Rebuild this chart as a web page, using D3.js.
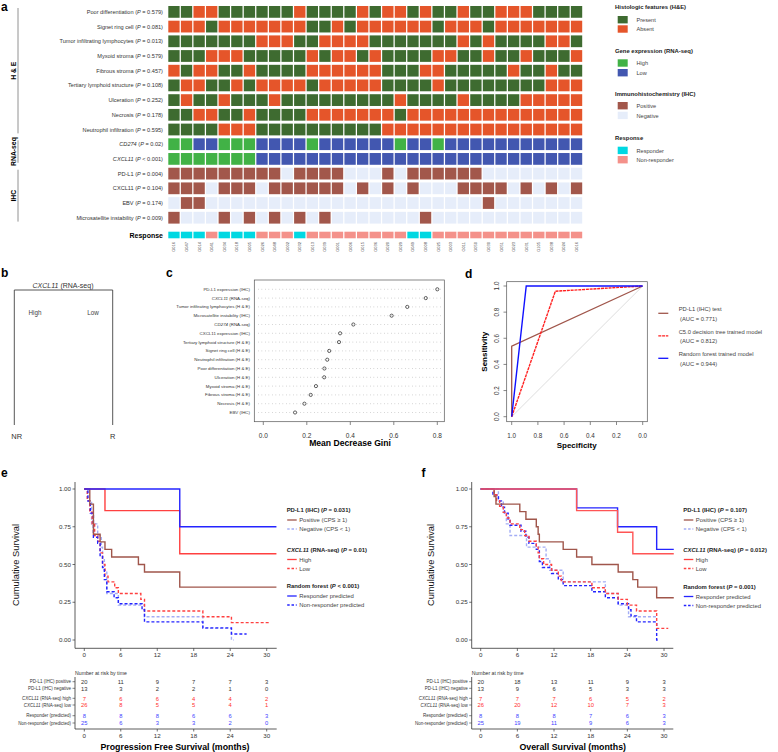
<!DOCTYPE html>
<html><head><meta charset="utf-8">
<script src="https://cdn.jsdelivr.net/npm/d3@7"></script>
<style>body{margin:0;background:#fff}</style>
</head><body>
<svg id="chart" width="778" height="752"></svg>
<script>
// ---------------- DATA ----------------
const samples = ["G016","G047","G014","G041","G034","G018","G005","G026","G048","G002","G032","G013","G039","G001","G006","G015","G036","G020","G029","G049","G008","G025","G003","G011","G050","G030","G051","G023","G031","G105","G038","G024","G016"];
const heLabels = ["Poor differentiation","Signet ring cell","Tumor infiltrating lymphocytes","Myxoid stroma","Fibrous stroma","Tertiary lymphoid structure","Ulceration","Necrosis","Neutrophil infiltration"];
const heP = ["= 0.579","= 0.081","= 0.013","= 0.579","= 0.457","= 0.108","= 0.252","= 0.178","= 0.595"];
const heValues = [
  "1100"+"111111011110100101101100011"+"11",
  "0001"+"000000011010000001000100000"+"00",
  "1111"+"111000110000111111101011110"+"01",
  "1110"+"001111101001011110011011011"+"10",
  "0100"+"110111100000011100111110110"+"11",
  "1001"+"101000010000011110111111110"+"00",
  "1011"+"011101111111110111101111000"+"00",
  "1100"+"110111100000001000000000000"+"00",
  "1111"+"000111111111100000000000000"+"00"
];
const rnaLabels = ["CD274","CXCL11"];
const rnaP = ["= 0.02","< 0.001"];
const rnaHigh = [[0,1,4,5,6,11,18,21],[0,1,2,3,4,5,6]];
const ihcLabels = ["PD-L1","CXCL11","EBV","Microsatellite instability"];
const ihcP = ["= 0.004","= 0.104","= 0.174","= 0.009"];
const ihcPositive = [
  [0,1,2,3,4,5,6,7,8,10,11,12,13,17,19,20,21,22,23,24],
  [0,1,2,4,5,6,8,9,10,11,12,13,15,17,19,23,24,25,26,28,30,32],
  [1,2,25],
  [0,4,6,8,10,12,20]
];
const responders = [0,1,2,4,5,6,10,19,20];

const giniLabels = ["PD-L1 expression (IHC)","CXCL11 (RNA-seq)","Tumor infiltrating lymphocytes (H & E)","Microsatellite instability (IHC)","CD274 (RNA-seq)","CXCL11 expression (IHC)","Tertiary lymphoid structure (H & E)","Signet ring cell (H & E)","Neutrophil infiltration (H & E)","Poor differentiation (H & E)","Ulceration (H & E)","Myxoid stroma (H & E)","Fibrous stroma (H & E)","Necrosis (H & E)","EBV (IHC)"];
const giniValues = [0.80,0.747,0.662,0.59,0.414,0.353,0.348,0.303,0.294,0.281,0.28,0.242,0.218,0.189,0.146];
const giniTicks = [0,0.2,0.4,0.6,0.8];

// ROC points: [specificity, sensitivity]
const rocPDL1 = [[1,0],[1,0.54],[0,1]];
const rocC50 = [[1,0],[0.667,0.96],[0,1]];
const rocRF = [[1,0],[0.889,1],[0,1]];
const rocTicks = [0,0.2,0.4,0.6,0.8,1.0];
const rocLegend = [["PD-L1 (IHC) test","(AUC = 0.771)"],["C5.0 decision tree trained model","(AUC = 0.812)"],["Random forest trained model","(AUC = 0.944)"]];

// KM curves: [time, survival]
const pfsPDL1pos = [[0,1],[0.9,0.9],[1.5,0.7],[2.6,0.65],[3.4,0.6],[4.5,0.55],[8.9,0.5],[9.9,0.45],[15.7,0.35],[31.6,0.35]];
const pfsPDL1neg = [[0,1],[0.5,0.923],[1.2,0.769],[2.2,0.692],[2.8,0.615],[3.0,0.538],[3.3,0.462],[3.7,0.308],[5.6,0.231],[9.9,0.154],[19.5,0.077],[24.2,0],[24.6,0]];
const pfsHigh = [[0,1],[3.4,0.857],[15.7,0.571],[31.6,0.571]];
const pfsLow = [[0,1],[0.5,0.923],[0.9,0.846],[1.3,0.769],[1.7,0.692],[2.2,0.654],[2.6,0.577],[3.0,0.5],[3.4,0.423],[3.9,0.385],[5.0,0.346],[5.6,0.308],[9.3,0.269],[9.9,0.192],[19.5,0.154],[24.2,0.115],[30.6,0.115]];
const pfsResp = [[0,1],[15.7,0.75],[31.6,0.75]];
const pfsNonResp = [[0,1],[0.6,0.92],[1.0,0.84],[1.5,0.68],[2.2,0.64],[2.6,0.56],[3.0,0.48],[3.3,0.4],[3.7,0.32],[4.9,0.28],[5.6,0.24],[9.5,0.2],[9.9,0.12],[19.5,0.08],[24.2,0.04],[26.7,0.04]];

const osPDL1pos = [[0,1],[2.2,0.95],[2.5,0.9],[6.4,0.85],[7.4,0.8],[9.1,0.75],[9.4,0.7],[9.6,0.65],[13.5,0.6],[15.7,0.55],[18.2,0.5],[22.5,0.45],[24.9,0.4],[25.7,0.35],[28.8,0.28],[31.6,0.28]];
const osPDL1neg = [[0,1],[2.9,0.923],[3.7,0.846],[4.2,0.769],[4.8,0.692],[7.5,0.615],[10.7,0.538],[11.3,0.462],[13.5,0.385],[20.4,0.308],[22.5,0.231],[24.2,0.154],[28.8,0.154]];
const osHigh = [[0,1],[15.7,0.857],[22.4,0.714],[24.9,0.571],[31.6,0.571]];
const osLow = [[0,1],[2.2,0.962],[2.6,0.923],[3.1,0.885],[3.7,0.846],[4.2,0.808],[4.8,0.769],[6.4,0.731],[7.2,0.692],[7.9,0.654],[9.1,0.615],[9.4,0.577],[9.6,0.538],[10.3,0.5],[11.6,0.462],[12.7,0.423],[13.2,0.385],[18.2,0.346],[20.4,0.308],[22.5,0.269],[24.0,0.231],[25.5,0.192],[28.8,0.077],[30.7,0.077]];
const osResp = [[0,1],[15.7,0.875],[22.4,0.75],[28.8,0.6],[31.6,0.6]];
const osNonResp = [[0,1],[2.0,0.96],[2.9,0.92],[3.4,0.88],[3.9,0.84],[4.5,0.8],[4.8,0.76],[6.6,0.72],[7.4,0.68],[7.9,0.64],[9.1,0.6],[9.6,0.52],[10.1,0.48],[11.6,0.44],[12.7,0.4],[13.5,0.36],[18.2,0.32],[20.4,0.28],[22.5,0.24],[24.2,0.2],[24.6,0.16],[25.5,0.12],[28.8,0],[29.0,0]];

const timeTicks = [0,6,12,18,24,30];
const survTicks = [0,0.25,0.5,0.75,1];
const riskLabels = ["PD-L1 (IHC) positive","PD-L1 (IHC) negative","CXCL11|(RNA-seq) high","CXCL11|(RNA-seq) low","Responder (predicted)","Non-responder (predicted)"];
const pfsRisk = [[20,11,9,7,7,3],[13,3,2,2,1,0],[7,6,6,4,4,2],[26,8,5,5,4,1],[8,8,8,6,6,3],[25,6,3,3,2,0]];
const osRisk = [[20,18,13,11,9,3],[13,9,6,5,3,3],[7,7,7,6,5,2],[26,20,12,10,7,3],[8,8,8,7,6,3],[25,19,11,9,6,3]];

// ---------------- DRAW ----------------
const FONT = "'Liberation Sans', Arial, Helvetica, sans-serif";
const svg = d3.select("#chart").attr("font-family", FONT);
const C = {present:"#3E6B30", absent:"#E5552A", high:"#41B246", low:"#4257B0", pos:"#A2574B", neg:"#E6EDFA", resp:"#00D8E2", nonresp:"#F4918A",
  brown:"#A0564B", red:"#FF4040", blue:"#2424FF", light:"#A3ADF5"};

function rich(g, x, y, parts, attrs) {
  const t = g.append("text").attr("x", x).attr("y", y);
  for (const k in attrs) t.attr(k, attrs[k]);
  parts.forEach(p => {
    if (typeof p === "string") t.append("tspan").text(p);
    else t.append("tspan").attr("font-style", "italic").text(p.i);
  });
  return t;
}
function label(t, x, y) {
  svg.append("text").attr("x", x).attr("y", y).attr("font-size", 12).attr("font-weight", "bold").text(t);
}

// ---- Panel a ----
label("a", 1, 10.5);
const gA = svg.append("g");
const xA = d3.scaleBand().domain(d3.range(samples.length)).range([168.3, 582.2]).paddingInner(0.1);
const yA = d3.scaleBand().domain(d3.range(15)).range([6, 223.6]).paddingInner(0.2);
const rows = [];
heValues.forEach((s, r) => rows.push({parts:[heLabels[r] + " (", {i:"P"}, " " + heP[r] + ")"], cells: d3.range(samples.length).map(i => s[i] === "1" ? C.present : C.absent)}));
rnaLabels.forEach((l, r) => rows.push({parts:[{i:l}, " (", {i:"P"}, " " + rnaP[r] + ")"], cells: d3.range(samples.length).map(i => rnaHigh[r].includes(i) ? C.high : C.low)}));
ihcLabels.forEach((l, r) => rows.push({parts:[l + " (", {i:"P"}, " " + ihcP[r] + ")"], cells: d3.range(samples.length).map(i => ihcPositive[r].includes(i) ? C.pos : C.neg)}));
rows.forEach((row, r) => {
  gA.selectAll(null).data(row.cells).enter().append("rect")
    .attr("x", (d, i) => xA(i)).attr("y", yA(r)).attr("width", xA.bandwidth()).attr("height", yA.bandwidth())
    .attr("fill", d => d);
  rich(gA, 163, yA(r) + yA.bandwidth() / 2 + 2, row.parts, {"font-size": 5.6, "text-anchor": "end", fill: "#333"});
});
gA.selectAll(null).data(d3.range(samples.length)).enter().append("rect")
  .attr("x", i => xA(i)).attr("y", 231.7).attr("width", xA.bandwidth()).attr("height", 6.6)
  .attr("fill", i => responders.includes(i) ? C.resp : C.nonresp);
gA.append("text").attr("x", 163).attr("y", 237.5).attr("text-anchor", "end").attr("font-size", 7).attr("font-weight", "bold").text("Response");
gA.selectAll(null).data(samples).enter().append("text")
  .attr("transform", (d, i) => `translate(${xA(i) + xA.bandwidth() / 2 + 1.5},242) rotate(-90)`)
  .attr("text-anchor", "end").attr("font-size", 4).attr("fill", "#444").text(d => d);
// groups
const groups = [["H & E", 0, 8], ["RNA-seq", 9, 10], ["IHC", 11, 14]];
groups.forEach(([t, a, b]) => {
  const y0 = yA(a) + 2, y1 = yA(b) + yA.bandwidth() - 2;
  gA.append("line").attr("x1", 18).attr("x2", 18).attr("y1", y0).attr("y2", y1).attr("stroke", "#777").attr("stroke-width", 0.8);
  gA.append("text").attr("transform", `translate(15.5,${(y0 + y1) / 2}) rotate(-90)`).attr("text-anchor", "middle")
    .attr("font-size", 6.8).attr("font-weight", "bold").text(t);
});
// legend
const legA = [
  ["Histologic features (H&E)", 9, [["Present", C.present, 16], ["Absent", C.absent, 25.3]]],
  ["Gene expression (RNA-seq)", 53, [["High", C.high, 59.3], ["Low", C.low, 69]]],
  ["Immunohistochemistry (IHC)", 95.5, [["Positive", C.pos, 102], ["Negative", C.neg, 111.7]]],
  ["Response", 140, [["Responder", C.resp, 146.7], ["Non-responder", C.nonresp, 156]]]
];
legA.forEach(([h, y, items]) => {
  gA.append("text").attr("x", 615).attr("y", y).attr("font-size", 5.9).attr("font-weight", "bold").attr("fill", "#222").text(h);
  items.forEach(([t, c, yy]) => {
    gA.append("rect").attr("x", 617.7).attr("y", yy).attr("width", 10).attr("height", 7.4).attr("fill", c);
    gA.append("text").attr("x", 636.5).attr("y", yy + 5.8).attr("font-size", 5.6).attr("fill", "#444").text(t);
  });
});

// ---- Panel b ----
label("b", 1, 277);
const gB = svg.append("g").attr("stroke-width", 0.9);
rich(gB, 63, 287.5, [{i:"CXCL11"}, " (RNA-seq)"], {"font-size": 7, "text-anchor": "middle", fill: "#333"});
gB.append("path").attr("d", "M14.3,425 V290 H112.7 V425").attr("fill", "none").attr("stroke", "#444");
gB.append("text").attr("x", 35).attr("y", 315).attr("text-anchor", "middle").attr("font-size", 6.3).attr("fill", "#444").text("High");
gB.append("text").attr("x", 93).attr("y", 315).attr("text-anchor", "middle").attr("font-size", 6.3).attr("fill", "#444").text("Low");
gB.append("text").attr("x", 16.7).attr("y", 438.5).attr("text-anchor", "middle").attr("font-size", 7.5).attr("fill", "#333").text("NR");
gB.append("text").attr("x", 112.7).attr("y", 438.5).attr("text-anchor", "middle").attr("font-size", 7.5).attr("fill", "#333").text("R");

// ---- Panel c ----
label("c", 166, 277);
const gC = svg.append("g");
const xC = d3.scaleLinear().domain([0, 0.8]).range([263.3, 437.3]);
const yC = d3.scalePoint().domain(giniLabels).range([289.3, 412.5]);
gC.append("rect").attr("x", 254.3).attr("y", 280).attr("width", 190).attr("height", 141.7).attr("fill", "none").attr("stroke", "#555").attr("stroke-width", 0.7);
giniLabels.forEach((l, i) => {
  gC.append("line").attr("x1", 258).attr("x2", 442).attr("y1", yC(l)).attr("y2", yC(l)).attr("stroke", "#9a9a9a").attr("stroke-width", 0.6).attr("stroke-dasharray", "0.7,2.8");
  let parts = [l];
  if (l.startsWith("CXCL11 (RNA")) parts = [{i:"CXCL11"}, " (RNA-seq)"];
  if (l.startsWith("CD274")) parts = [{i:"CD274"}, " (RNA-seq)"];
  rich(gC, 250, yC(l) + 1.5, parts, {"font-size": 4.4, "text-anchor": "end", fill: "#333"});
});
gC.selectAll(null).data(giniValues).enter().append("circle")
  .attr("cx", d => xC(d)).attr("cy", (d, i) => yC(giniLabels[i])).attr("r", 1.6)
  .attr("fill", "none").attr("stroke", "#222").attr("stroke-width", 0.7);
giniTicks.forEach(t => {
  gC.append("line").attr("x1", xC(t)).attr("x2", xC(t)).attr("y1", 421.7).attr("y2", 425).attr("stroke", "#555").attr("stroke-width", 0.7);
  gC.append("text").attr("x", xC(t)).attr("y", 437.5).attr("text-anchor", "middle").attr("font-size", 6.5).attr("fill", "#333").text(d3.format(".1f")(t));
});
gC.append("text").attr("x", 350).attr("y", 446).attr("text-anchor", "middle").attr("font-size", 8.6).attr("font-weight", "bold").text("Mean Decrease Gini");

// ---- Panel d ----
label("d", 465, 278);
const gD = svg.append("g");
const xD = d3.scaleLinear().domain([1, 0]).range([511.7, 642.7]);
const yD = d3.scaleLinear().domain([0, 1]).range([416.7, 286]);
gD.append("rect").attr("x", 506.7).attr("y", 281.7).attr("width", 140.6).attr("height", 140).attr("fill", "none").attr("stroke", "#555").attr("stroke-width", 0.7);
rocTicks.forEach(t => {
  gD.append("line").attr("x1", 503.5).attr("x2", 506.7).attr("y1", yD(t)).attr("y2", yD(t)).attr("stroke", "#555").attr("stroke-width", 0.7);
  gD.append("text").attr("transform", `translate(499,${yD(t)}) rotate(-90)`).attr("text-anchor", "middle").attr("font-size", 6.3).attr("fill", "#333").text(d3.format(".1f")(t));
  gD.append("line").attr("x1", xD(t)).attr("x2", xD(t)).attr("y1", 421.7).attr("y2", 425).attr("stroke", "#555").attr("stroke-width", 0.7);
  gD.append("text").attr("x", xD(t)).attr("y", 437.5).attr("text-anchor", "middle").attr("font-size", 6.3).attr("fill", "#333").text(d3.format(".1f")(t));
});
const lineD = d3.line().x(d => xD(d[0])).y(d => yD(d[1]));
gD.append("path").attr("d", lineD([[1, 0], [0, 1]])).attr("stroke", "#cfcfcf").attr("stroke-width", 0.7).attr("fill", "none");
gD.append("path").attr("d", lineD(rocPDL1)).attr("stroke", C.brown).attr("stroke-width", 1.3).attr("fill", "none");
gD.append("path").attr("d", lineD(rocC50)).attr("stroke", "#FF2020").attr("stroke-width", 1.4).attr("fill", "none").attr("stroke-dasharray", "3,0.8");
gD.append("path").attr("d", lineD(rocRF)).attr("stroke", "#1010FF").attr("stroke-width", 1.4).attr("fill", "none");
gD.append("text").attr("x", 576.7).attr("y", 448).attr("text-anchor", "middle").attr("font-size", 8).attr("font-weight", "bold").text("Specificity");
gD.append("text").attr("transform", "translate(486.5,351.7) rotate(-90)").attr("text-anchor", "middle").attr("font-size", 8).attr("font-weight", "bold").text("Sensitivity");
const rocCols = [[C.brown, null], ["#FF2020", "3,0.8"], ["#1010FF", null]];
rocLegend.forEach((l, i) => {
  const yy = 313.3 + i * 22.5;
  gD.append("line").attr("x1", 658.3).attr("x2", 668.3).attr("y1", yy).attr("y2", yy).attr("stroke", rocCols[i][0]).attr("stroke-width", 1.3).attr("stroke-dasharray", rocCols[i][1]);
  gD.append("text").attr("x", 678.7).attr("y", yy - 2).attr("font-size", 5.8).attr("fill", "#444").text(l[0]);
  gD.append("text").attr("x", 680).attr("y", yy + 7.5).attr("font-size", 5.8).attr("fill", "#444").text(l[1]);
});

// ---- Panels e / f ----
function km(cfg) {
  const g = svg.append("g");
  const x = d3.scaleLinear().domain([0, 30]).range([cfg.x0, cfg.x30]);
  const y = d3.scaleLinear().domain([0, 1]).range([640, 489]);
  const ax = cfg.ax;
  g.append("line").attr("x1", ax).attr("x2", ax).attr("y1", 482).attr("y2", 648.3).attr("stroke", "#333").attr("stroke-width", 0.8);
  g.append("line").attr("x1", ax).attr("x2", cfg.axEnd).attr("y1", 648.3).attr("y2", 648.3).attr("stroke", "#333").attr("stroke-width", 0.8);
  survTicks.forEach(v => {
    g.append("line").attr("x1", ax - 2.5).attr("x2", ax).attr("y1", y(v)).attr("y2", y(v)).attr("stroke", "#333").attr("stroke-width", 0.7);
    g.append("text").attr("x", ax - 4).attr("y", y(v) + 2.2).attr("text-anchor", "end").attr("font-size", 6.2).attr("fill", "#333").text(d3.format(".2f")(v));
  });
  timeTicks.forEach(t => {
    g.append("line").attr("x1", x(t)).attr("x2", x(t)).attr("y1", 648.3).attr("y2", 651).attr("stroke", "#333").attr("stroke-width", 0.7);
    g.append("text").attr("x", x(t)).attr("y", 657).attr("text-anchor", "middle").attr("font-size", 6.2).attr("fill", "#333").text(t);
  });
  g.append("text").attr("transform", `translate(${cfg.ylabX},565) rotate(-90)`).attr("text-anchor", "middle").attr("font-size", 9.3).attr("fill", "#111").text("Cumulative Survival");
  const line = d3.line().x(d => x(d[0])).y(d => y(d[1])).curve(d3.curveStepAfter);
  cfg.curves.forEach(c => {
    g.append("path").attr("d", line(c.data)).attr("fill", "none").attr("stroke", c.color).attr("stroke-width", 1.4)
      .attr("stroke-dasharray", c.dash ? "3,2" : null);
  });
  // legend
  const hx = cfg.legX;
  cfg.legend.forEach(grp => {
    rich(g, hx, grp.y, grp.head, {"font-size": 5.9, "font-weight": "bold", fill: "#222"});
    grp.items.forEach((it, k) => {
      const yy = grp.y + 10 + k * 9;
      g.append("line").attr("x1", hx + 0.5).attr("x2", hx + 10).attr("y1", yy - 2).attr("y2", yy - 2).attr("stroke", it[1]).attr("stroke-width", 1.3).attr("stroke-dasharray", it[2] ? "2.5,1.8" : null);
      g.append("text").attr("x", hx + 12.5).attr("y", yy).attr("font-size", 5.9).attr("fill", "#444").text(it[0]);
    });
  });
  // risk table
  g.append("text").attr("x", ax).attr("y", 674.5).attr("font-size", 5.2).attr("fill", "#333").text("Number at risk by time");
  const ry = [681.7, 688.3, 698.3, 705, 715.7, 723];
  const rc = ["#333", "#333", "#FF3030", "#FF3030", "#4545FF", "#4545FF"];
  riskLabels.forEach((l, r) => {
    const parts = l.includes("|") ? [{i: l.split("|")[0]}, " " + l.split("|")[1]] : [l];
    rich(g, ax - 4, ry[r] + 1.7, parts, {"font-size": 4.5, "text-anchor": "end", fill: "#333"});
    g.append("line").attr("x1", ax - 2.5).attr("x2", ax).attr("y1", ry[r]).attr("y2", ry[r]).attr("stroke", "#333").attr("stroke-width", 0.6);
    cfg.risk[r].forEach((v, k) => {
      g.append("text").attr("x", x(timeTicks[k])).attr("y", ry[r] + 2.2).attr("text-anchor", "middle").attr("font-size", 5.8).attr("fill", rc[r]).text(v);
    });
  });
  g.append("line").attr("x1", ax).attr("x2", ax).attr("y1", 677).attr("y2", 729).attr("stroke", "#333").attr("stroke-width", 0.8);
  g.append("line").attr("x1", ax).attr("x2", cfg.axEnd).attr("y1", 729).attr("y2", 729).attr("stroke", "#333").attr("stroke-width", 0.8);
  timeTicks.forEach(t => {
    g.append("line").attr("x1", x(t)).attr("x2", x(t)).attr("y1", 729).attr("y2", 731.5).attr("stroke", "#333").attr("stroke-width", 0.7);
    g.append("text").attr("x", x(t)).attr("y", 738).attr("text-anchor", "middle").attr("font-size", 6.2).attr("fill", "#333").text(t);
  });
  g.append("text").attr("x", cfg.titleX).attr("y", 749.5).attr("text-anchor", "middle").attr("font-size", 8.8).attr("font-weight", "bold").text(cfg.title);
}

label("e", 1, 477);
km({x0: 84.3, x30: 266.7, ax: 75, axEnd: 276.7, ylabX: 19, legX: 286.7, titleX: 175, title: "Progression Free Survival (months)",
  risk: pfsRisk,
  curves: [
    {data: pfsPDL1neg, color: C.light, dash: true},
    {data: pfsLow, color: C.red, dash: true},
    {data: pfsNonResp, color: C.blue, dash: true},
    {data: pfsPDL1pos, color: C.brown},
    {data: pfsHigh, color: C.red},
    {data: pfsResp, color: C.blue}
  ],
  legend: [
    {y: 512, head: ["PD-L1 (IHC) (", {i:"P"}, " = 0.031)"], items: [["Positive (CPS \u2265 1)", C.brown, false], ["Negative (CPS < 1)", C.light, true]]},
    {y: 551.5, head: [{i:"CXCL11"}, " (RNA-seq) (", {i:"P"}, " = 0.01)"], items: [["High", C.red, false], ["Low", C.red, true]]},
    {y: 588, head: ["Random forest (", {i:"P"}, " < 0.001)"], items: [["Responder predicted", C.blue, false], ["Non-responder predicted", C.blue, true]]}
  ]});

label("f", 421.5, 477);
km({x0: 480.7, x30: 664, ax: 471.7, axEnd: 673.3, ylabX: 434, legX: 683.3, titleX: 572.7, title: "Overall Survival (months)",
  risk: osRisk,
  curves: [
    {data: osPDL1neg, color: C.light, dash: true},
    {data: osNonResp, color: C.blue, dash: true},
    {data: osLow, color: C.red, dash: true},
    {data: osPDL1pos, color: C.brown},
    {data: osResp, color: C.blue},
    {data: osHigh, color: "#FF5555"}
  ],
  legend: [
    {y: 512, head: ["PD-L1 (IHC) (", {i:"P"}, " = 0.107)"], items: [["Positive (CPS \u2265 1)", C.brown, false], ["Negative (CPS < 1)", C.light, true]]},
    {y: 551.5, head: [{i:"CXCL11"}, " (RNA-seq) (", {i:"P"}, " = 0.012)"], items: [["High", C.red, false], ["Low", C.red, true]]},
    {y: 588.5, head: ["Random forest (", {i:"P"}, " = 0.001)"], items: [["Responder predicted", C.blue, false], ["Non-responder predicted", C.blue, true]]}
  ]});
</script>
</body></html>
